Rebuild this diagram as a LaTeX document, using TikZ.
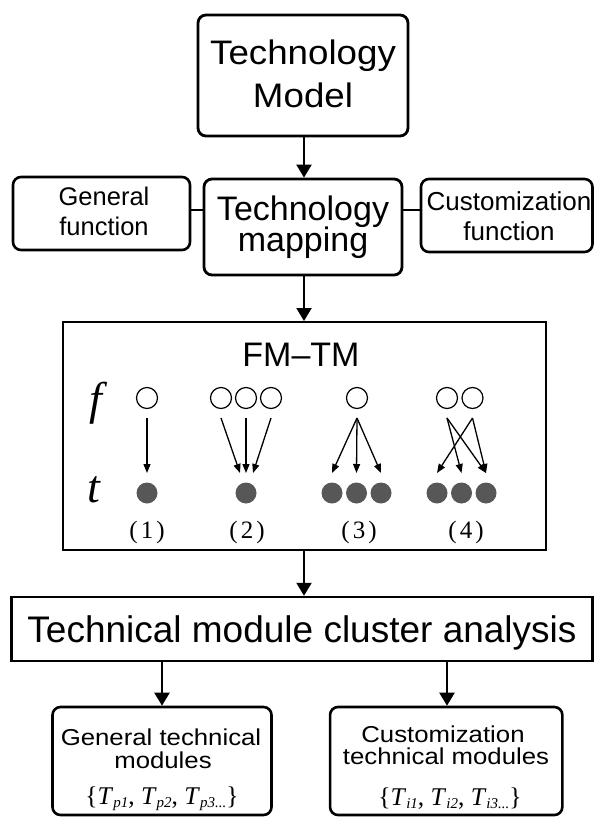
\documentclass[tikz,border=0pt]{standalone}
\usepackage{fontspec}
\setmainfont{Liberation Serif}
\setsansfont{Liberation Sans}
% widened sans faces
\newfontfamily\medsans{Liberation Sans}[FakeStretch=1.08]
\newfontfamily\widesans{Liberation Sans}[FakeStretch=1.12]
\usetikzlibrary{arrows.meta}

\newcommand{\fsz}[1]{\fontsize{#1}{#1}\selectfont}
% italic T with a lowered italic index
\newcommand{\Tsub}[1]{\textit{T}\raisebox{-3.5pt}{\fsz{15}\textit{#1}}}
\definecolor{dotgray}{HTML}{575757}

\begin{document}
\begin{tikzpicture}[x=1pt,y=-1pt,
  rbox/.style={draw, line width=2.6pt, rounded corners=8pt, inner sep=0pt},
  sbox/.style={draw, line width=2.2pt, inner sep=0pt},
  txt/.style={anchor=base, inner sep=0pt, font=\sffamily},
  bigarrow/.style={line width=2.2pt, -{Triangle[width=15pt,length=13pt]}},
  link/.style={line width=2.2pt},
  smallarrow/.style={line width=1.3pt, -{Triangle[width=7pt,length=9pt]}},
  fopen/.style={circle, draw, line width=1.2pt, minimum size=21pt, inner sep=0pt},
  tdot/.style={circle, fill=dotgray, minimum size=21pt, inner sep=0pt},
  lbl/.style={anchor=base, inner sep=0pt, font=\fsz{25}},
]
\useasboundingbox (0,0) rectangle (594,824);

% ---------- top part ----------
\node[rbox, line width=2.8pt, minimum width=210pt, minimum height=121pt] (model) at (303,75.5) {};
\node[txt, font=\medsans\fsz{34}] (modelA) at (303,65) {Technology};
\node[txt, font=\medsans\fsz{34}] (modelB) at (303,108) {Model};

\node[rbox, line width=2.8pt, minimum width=198pt, minimum height=96pt] (map) at (303,227) {};
\node[txt, font=\sffamily\fsz{34}] (mapA) at (303,220.7) {Technology};
\node[txt, font=\sffamily\fsz{34}] (mapB) at (303,251.7) {mapping};

\node[rbox, minimum width=177pt, minimum height=73pt] (gen) at (101.5,213.5) {};
\node[txt, font=\sffamily\fsz{25.5}] (genA) at (104,205) {General};
\node[txt, font=\sffamily\fsz{25.5}] (genB) at (104,235) {function};

\node[rbox, minimum width=171.5pt, minimum height=73pt] (cus) at (506.75,215.5) {};
\node[txt, font=\sffamily\fsz{26}] (cusA) at (509,210) {Customization};
\node[txt, font=\sffamily\fsz{26}] (cusB) at (509,240) {function};

\coordinate (linky) at (0,210);
\draw[link] (gen.east |- linky) -- (map.west |- linky);
\draw[link] (map.east |- linky) -- (cus.west |- linky);
\draw[bigarrow] (model.south -| 304,0) -- (map.north -| 304,0);

% ---------- FM-TM panel ----------
\node[sbox, line width=2pt, minimum width=483pt, minimum height=228pt] (fmtm) at (304.5,436) {};
\node[txt, font=\sffamily\fsz{34}] (fmtmT) at (301,366) {FM\textendash TM};
\draw[bigarrow] (map.south -| 304,0) -- (fmtm.north -| 304,0);

\node[anchor=base, inner sep=0pt, font=\itshape\fsz{46}] (fl) at (96,414) {f};
\node[anchor=base, inner sep=0pt, font=\itshape\fsz{46}] (tl) at (94,502) {t};

% (1) one to one
\node[fopen] (f1) at (147,398) {};
\node[tdot] (t1) at (147,493) {};
\draw[smallarrow] ([yshift=-20pt]f1.center) -- ([yshift=20pt]t1.center);
\node[lbl] (n1) at (147,538) {(\hspace{3pt}1\hspace{3pt})};

% (2) many to one
\node[fopen] (f2a) at (221,398) {};
\node[fopen] (f2b) at (246,398) {};
\node[fopen] (f2c) at (271,398) {};
\node[tdot] (t2) at (246,493) {};
\draw[smallarrow] ([yshift=-20pt]f2a.center) -- ([xshift=-6pt,yshift=20pt]t2.center);
\draw[smallarrow] ([yshift=-20pt]f2b.center) -- ([yshift=20pt]t2.center);
\draw[smallarrow] ([yshift=-20pt]f2c.center) -- ([xshift=7pt,yshift=20pt]t2.center);
\node[lbl] (n2) at (247,538) {(\hspace{3pt}2\hspace{3pt})};

% (3) one to many
\node[fopen] (f3) at (357,398) {};
\node[tdot] (t3a) at (332,493) {};
\node[tdot] (t3b) at (356.5,493) {};
\node[tdot] (t3c) at (381,493) {};
\draw[smallarrow] ([yshift=-20pt]f3.center) -- ([yshift=20pt]t3a.center);
\draw[smallarrow] ([yshift=-20pt]f3.center) -- ([yshift=20pt]t3b.center);
\draw[smallarrow] ([yshift=-20pt]f3.center) -- ([yshift=20pt]t3c.center);
\node[lbl] (n3) at (359,538) {(\hspace{3pt}3\hspace{3pt})};

% (4) many to many
\node[fopen] (f4a) at (447,398) {};
\node[fopen] (f4b) at (472.5,398) {};
\node[tdot] (t4a) at (437,493) {};
\node[tdot] (t4b) at (461.5,493) {};
\node[tdot] (t4c) at (486,493) {};
\draw[smallarrow] ([yshift=-20pt]f4a.center) -- ([yshift=20pt]t4b.center);
\draw[smallarrow] ([yshift=-20pt]f4a.center) -- ([yshift=20pt]t4c.center);
\draw[smallarrow] ([yshift=-20pt]f4b.center) -- ([yshift=20pt]t4a.center);
\draw[smallarrow] ([yshift=-20pt]f4b.center) -- ([yshift=20pt]t4c.center);
\node[lbl] (n4) at (466,538) {(\hspace{3pt}4\hspace{3pt})};

% ---------- cluster analysis ----------
\node[sbox, line width=2.5pt, minimum width=581pt, minimum height=64pt] (clu) at (302,629) {};
\node[txt, font=\sffamily\fsz{37}] (cluT) at (302,642) {Technical module cluster analysis};
\draw[bigarrow] (fmtm.south -| 304,0) -- (clu.north -| 304,0);

% ---------- module groups ----------
\node[rbox, minimum width=219pt, minimum height=108pt] (gm) at (162,761) {};
\node[txt, font=\widesans\fsz{23}] (gmA) at (161,745.5) {General technical};
\node[txt, font=\widesans\fsz{23}] (gmB) at (163,768) {modules};
\node[anchor=base, inner sep=0pt, font=\fsz{25.5}] (gmC) at (162,804)
  {\{\Tsub{p1}, \Tsub{p2}, \Tsub{p3...}\}};

\node[rbox, minimum width=232.3pt, minimum height=108pt] (cm) at (446.2,761) {};
\node[txt, font=\widesans\fsz{23}] (cmA) at (443,742) {Customization};
\node[txt, font=\widesans\fsz{23}] (cmB) at (446,764) {technical modules};
\node[anchor=base, inner sep=0pt, font=\fsz{25.5}] (cmC) at (450,805)
  {\{\Tsub{i1}, \Tsub{i2}, \Tsub{i3...}\}};

\draw[bigarrow] (clu.south -| gm.north) -- (gm.north);
\draw[bigarrow] (clu.south -| 447,0) -- (cm.north -| 447,0);
\end{tikzpicture}
\end{document}
